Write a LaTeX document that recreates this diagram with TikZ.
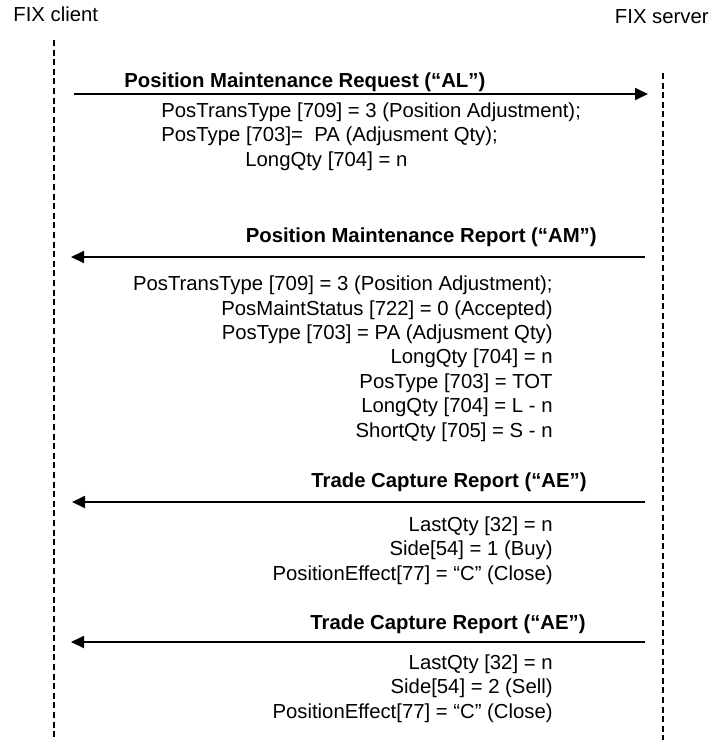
\documentclass[tikz,border=0pt]{standalone}
\usepackage{fontspec}
\setmainfont{Liberation Sans}
\usetikzlibrary{arrows.meta}
\begin{document}
\begin{tikzpicture}[
x=0.5pt, y=-0.5pt,
every node/.style={font=\fontsize{10.15}{12.2}\selectfont, inner sep=0pt},
actor/.style={anchor=base},
mensaje/.style={font=\fontsize{10.15}{12.2}\selectfont\bfseries},
campos/.style={align=right, anchor=base east},
vida/.style={line width=0.6pt, dash pattern=on 3pt off 1.8pt},
flecha/.style={line width=0.9pt, -{Triangle[length=6.5pt,width=6pt]}}
]
\useasboundingbox (0,0) rectangle (711,740);
% Actores
\node[actor, anchor=base west] (cliente) at (13,21) {FIX client};
\node[actor, anchor=base east] (servidor) at (709,23) {FIX server};
% Lineas de vida
\coordinate (cli-a) at (54,40);
\coordinate (cli-b) at (54,740);
\coordinate (srv-a) at (663,73);
\coordinate (srv-b) at (663,740);
\draw[vida] (cli-a) -- (cli-b);
\draw[vida] (srv-a) -- (srv-b);
% Mensaje AL (base = ultima linea)
\node[mensaje, anchor=base west] (al) at (124,87) {Position Maintenance Request (“AL”)};
\coordinate (al-a) at (74,94);
\coordinate (al-b) at (648,94);
\draw[flecha] (al-a) -- (al-b);
\node[align=left, anchor=base west] (al-campos) at (161,166)
  {PosTransType [709] = 3 (Position Adjustment);\\
   PosType [703]=\ \ PA (Adjusment Qty);\\
   \hspace*{42pt}LongQty [704] = n};
% Mensaje AM
\node[mensaje, anchor=base east] (am) at (597,242) {Position Maintenance Report (“AM”)};
\coordinate (am-a) at (645,257);
\coordinate (am-b) at (71,257);
\draw[flecha] (am-a) -- (am-b);
\node[campos] (am-campos) at (553,437)
  {PosTransType [709] = 3 (Position Adjustment);\\
   PosMaintStatus [722] = 0 (Accepted)\\
   PosType [703] = PA (Adjusment Qty)\\
   LongQty [704] = n\\
   PosType [703] = TOT\\
   LongQty [704] = L - n\\
   ShortQty [705] = S - n};
% Mensaje AE (compra)
\node[mensaje, anchor=base east] (ae1) at (587,487) {Trade Capture Report (“AE”)};
\coordinate (ae1-a) at (645,502);
\coordinate (ae1-b) at (72,502);
\draw[flecha] (ae1-a) -- (ae1-b);
\node[campos] (ae1-campos) at (553,580)
  {LastQty [32] = n\\
   Side[54] = 1 (Buy)\\
   PositionEffect[77] = “C” (Close)};
% Mensaje AE (venta)
\node[mensaje, anchor=base east] (ae2) at (586,629) {Trade Capture Report (“AE”)};
\coordinate (ae2-a) at (645,642);
\coordinate (ae2-b) at (71,642);
\draw[flecha] (ae2-a) -- (ae2-b);
\node[campos] (ae2-campos) at (553,718)
  {LastQty [32] = n\\
   Side[54] = 2 (Sell)\\
   PositionEffect[77] = “C” (Close)};
\end{tikzpicture}
\end{document}
